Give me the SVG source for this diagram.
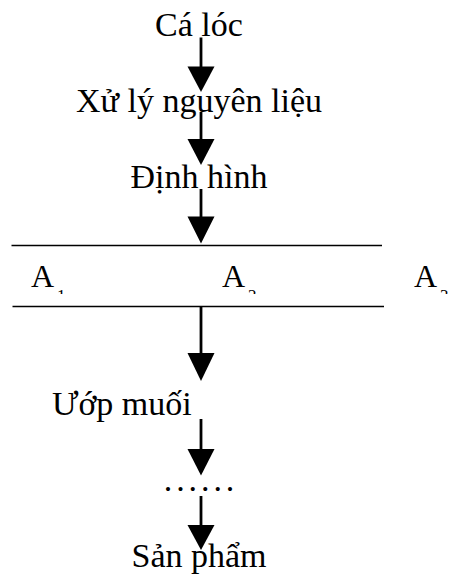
<svg xmlns="http://www.w3.org/2000/svg" width="449" height="574" viewBox="0 0 449 574">
  <style>
    .lbl { font-family: "Liberation Serif", "Times New Roman", serif; font-size: 34px; fill: #000; }
    .mid { text-anchor: middle; }
    .a { font-family: "Liberation Serif", "Times New Roman", serif; font-size: 32px; fill: #000; }
    .sub { font-family: "Liberation Serif", "Times New Roman", serif; font-size: 17px; fill: #000; }
    .flow { stroke: #000; stroke-width: 2.8; fill: none; }
    .rule { stroke: #000; stroke-width: 1.6; fill: none; }
    .head { fill: #000; }
  </style>
  <defs>
    <!-- subscripts in the band are cut off just below their tops -->
    <clipPath id="subClip">
      <rect x="0" y="0" width="449" height="294"/>
    </clipPath>
  </defs>
  <rect width="449" height="574" fill="#fff"/>

  <!-- connectors: vertical flow with filled triangular heads -->
  <g id="connectors">
    <line class="flow" x1="201" y1="37.5" x2="201" y2="68"/>
    <polygon class="head" points="187.5,66.5 214.5,66.5 201,92"/>
    <line class="flow" x1="201" y1="112" x2="201" y2="141"/>
    <polygon class="head" points="187.5,139 214.5,139 201,165"/>
    <line class="flow" x1="201" y1="189" x2="201" y2="218"/>
    <polygon class="head" points="187.5,216.5 214.5,216.5 201,243.5"/>
    <line class="flow" x1="201" y1="306.5" x2="201" y2="354"/>
    <polygon class="head" points="187.5,353 214.5,353 201,381"/>
    <line class="flow" x1="201" y1="419" x2="201" y2="450"/>
    <polygon class="head" points="187.5,449 214.5,449 201,475.5"/>
    <line class="flow" x1="201" y1="496" x2="201" y2="526"/>
    <polygon class="head" points="187.5,525 214.5,525 201,550"/>
  </g>

  <g id="ca-loc">
    <text class="lbl mid" x="199" y="35.5">Cá lóc</text>
  </g>
  <g id="xu-ly">
    <text class="lbl mid" x="199" y="111.5">Xử lý nguyên liệu</text>
  </g>
  <g id="dinh-hinh">
    <text class="lbl mid" x="199" y="188">Định hình</text>
  </g>

  <g id="band">
    <line class="rule" x1="11.5" y1="245.5" x2="382" y2="245.5"/>
    <line class="rule" x1="12.5" y1="306.5" x2="384" y2="306.5"/>
    <text class="a" x="31" y="287">A</text>
    <text class="a" x="222" y="287">A</text>
    <text class="a" x="414" y="287">A</text>
    <g clip-path="url(#subClip)">
      <text class="sub" x="57" y="301">1</text>
      <text class="sub" x="248" y="301">2</text>
      <text class="sub" x="440" y="301">3</text>
    </g>
  </g>

  <g id="uop-muoi">
    <text class="lbl" x="52" y="415">Ướp muối</text>
  </g>
  <g id="ellipsis">
    <text class="lbl" x="163.8" y="490.5" letter-spacing="3.9">......</text>
  </g>
  <g id="san-pham">
    <text class="lbl mid" x="199" y="566.5">Sản phẩm</text>
  </g>
</svg>
